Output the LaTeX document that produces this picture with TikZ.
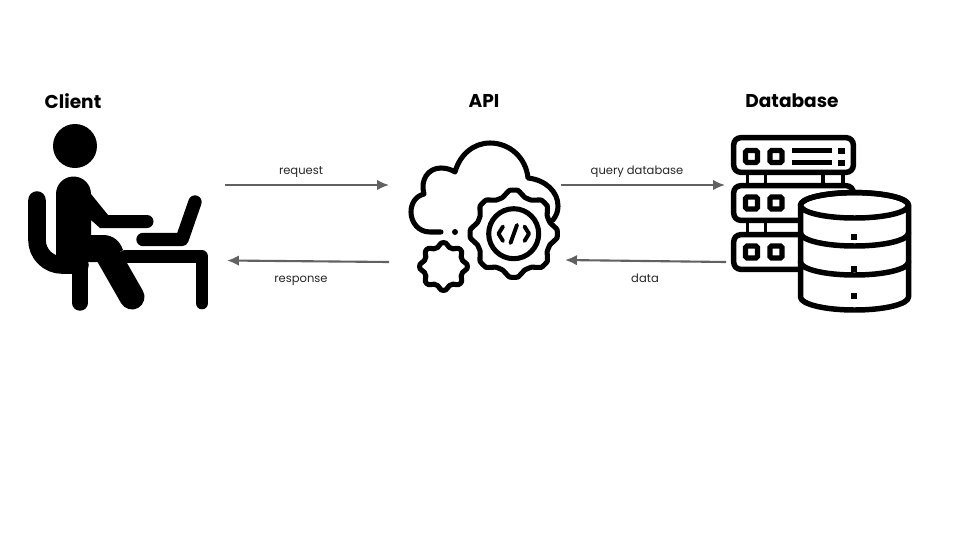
\documentclass[tikz,border=0pt]{standalone}
\usepackage{fontspec}
\setmainfont{Poppins}
\usetikzlibrary{arrows.meta}
\tikzset{
    %Define arrow style
    pil/.style={
           -{Latex[length=8.5pt,width=7.5pt]},
           line width=1.5pt,
           draw=black!62},
    %Define style for texts
    titletext/.style={
           font=\fontsize{13.2}{15}\bfseries\selectfont,
           text=black},
    edgelabel/.style={
           font=\fontsize{8.2}{10}\selectfont,
           text=black!85},
    %Define style for icons
    solidicon/.style={
           draw=black,
           line cap=round,
           line join=round},
    outlineicon/.style={
           draw=black,
           line width=3.6pt,
           line cap=round,
           line join=round},
    serverbox/.style={
           draw=black,
           line width=3.9pt,
           rounded corners=5pt,
           fill=white},
    squarebox/.style={
           draw=black,
           line width=3.6pt,
           rounded corners=1pt,
           fill=white}
}
% center x, center y, radius of teeth, radius of gaps, tension
\newcommand{\gearoutline}[5]{
    \draw[outlineicon,fill=white] plot[smooth cycle,tension=#5,samples at={0,...,31}]
        ({#1+(mod(\x,4)<2?#3:#4)*cos((\x-.5)*11.25)},{#2+(mod(\x,4)<2?#3:#4)*sin((\x-.5)*11.25)});
}
\begin{document}
\begin{tikzpicture}[x=0.025cm,y=-0.025cm]
\useasboundingbox (0,0) rectangle (960,540);
 %titles
\node[titletext](clienttitle) at (73,101){Client};
\node[titletext](apititle) at (484,101){API};
\node[titletext](dbtitle) at (792,101){Database};
 %client
\fill (75,146) circle (22);
\draw[solidicon,line width=12.5pt] (37,200) -- (37,240) arc[start angle=180,end angle=90,radius=25] -- (80,265);
\draw[solidicon,line width=11pt] (80,262) -- (80,303);
\draw[solidicon,line width=9pt] (125,256.5) -- (202,256.5) -- (202,303);
\fill (56,194) arc[start angle=180,end angle=360,radius=17.5] -- (108,215) -- (147,215) arc[start angle=-90,end angle=90,radius=6.5] -- (108,228) -- (100,228) -- (91,220) -- (91,235) -- (103,235) .. controls (113,235) and (120,241) .. (123,250) -- (102,262) -- (56,262) -- cycle;
\draw[solidicon,line width=17.8pt] (104,248) -- (132,297);
\draw[solidicon,line width=9.5pt] (143,239.5) -- (182,239.5) -- (195,202);
 %api
\draw[outlineicon] (441,232) -- (430,232) .. controls (418,232) and (411,222) .. (411,212) .. controls (411,203) and (416,196) .. (424,194) .. controls (420,180) and (428,168) .. (441,168) .. controls (447,168) and (452,170) .. (455,172) .. controls (460,154) and (474,143) .. (490,143) .. controls (510,143) and (526,158) .. (528,178) .. controls (546,180) and (558,192) .. (558,206) .. controls (558,212) and (556,216) .. (553,220);
\fill (455,232) circle (3);
\gearoutline{513.7}{233.7}{43.5}{38}{.25}
\gearoutline{443.5}{266.5}{23.5}{20}{.6}
\draw[outlineicon] (513.7,233.7) circle (25);
\draw[outlineicon,line width=2.8pt] (503,226.5) -- (498.5,233.7) -- (503,241);
\draw[outlineicon,line width=2.8pt] (517,225) -- (510.5,243);
\draw[outlineicon,line width=2.8pt] (524.5,226.5) -- (529,233.7) -- (524.5,241);
 %database
\foreach \stemx in {747.5,765.5,823,843}
    \draw[solidicon,line width=2.8pt,line cap=butt] (\stemx,175) -- (\stemx,183);
\foreach \stemx in {747.5,765.5}
    \draw[solidicon,line width=2.8pt,line cap=butt] (\stemx,223) -- (\stemx,232);
\foreach \servery in {137.7,185.7,234.7}
    \draw[serverbox] (733.7,\servery) rectangle (853.3,\servery+34.6);
\foreach \squarey in {156.5,203,252}{
    \draw[squarebox] (745.5,\squarey-6) rectangle (757.5,\squarey+6);
    \draw[squarebox] (770,\squarey-6) rectangle (782,\squarey+6);
}
\fill (792,148) rectangle (832,153);
\fill (792,160) rectangle (832,165);
\fill (838,148) rectangle (845,153.5);
\fill (838,160) rectangle (845,165.5);
\draw[outlineicon,line width=3.9pt,fill=white] (800.5,205.3) -- (800.5,297) arc[start angle=180,end angle=0,x radius=54,y radius=13] -- (908.5,205.3) arc[start angle=0,end angle=-180,x radius=54,y radius=12.7];
\draw[outlineicon,line width=3.9pt] (854.5,205.3) ellipse [x radius=54,y radius=12.7];
\draw[outlineicon,line width=3.9pt] (800.5,233) arc[start angle=180,end angle=0,x radius=54,y radius=13];
\draw[outlineicon,line width=3.9pt] (800.5,262) arc[start angle=180,end angle=0,x radius=54,y radius=13];
\fill (850.5,233.5) rectangle (856.5,239.5);
\fill (850.5,266) rectangle (856.5,272);
\fill (850.5,293) rectangle (856.5,299);
 %connectors
\coordinate (reqstart) at (225,185);
\coordinate (reqend) at (389,185);
\coordinate (respstart) at (389,262);
\coordinate (respend) at (227,260.5);
\coordinate (querystart) at (561,185);
\coordinate (queryend) at (725,185);
\coordinate (datastart) at (726,262);
\coordinate (dataend) at (565,260);
\path (reqstart) edge[pil] (reqend)
    (respstart) edge[pil] (respend)
    (querystart) edge[pil] (queryend)
    (datastart) edge[pil] (dataend);
\node[edgelabel](reqlabel) at (301,172){request};
\node[edgelabel](resplabel) at (301,280.5){response};
\node[edgelabel](querylabel) at (637,172){query database};
\node[edgelabel](datalabel) at (645,278){data};
\end{tikzpicture}
\end{document}
